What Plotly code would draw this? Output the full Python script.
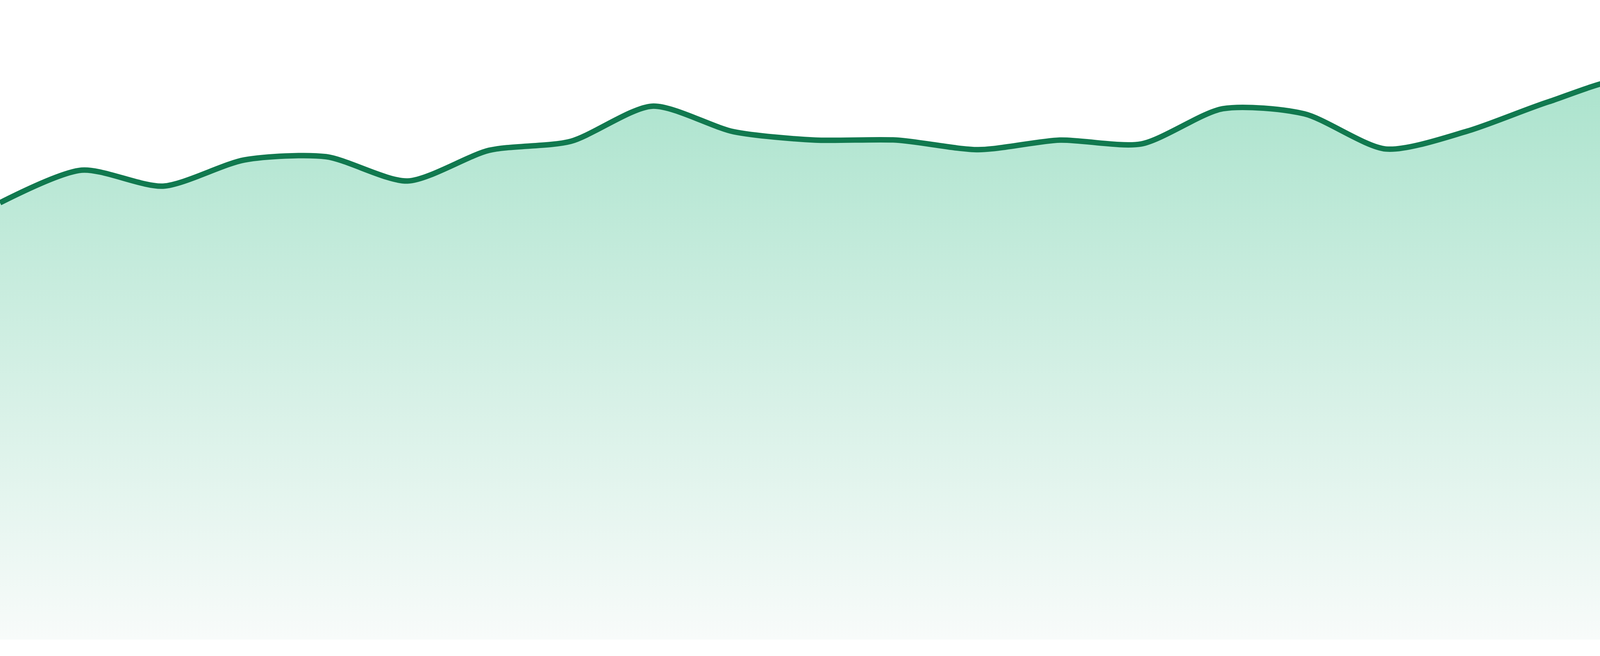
import plotly.graph_objects as go

# 24 evenly spaced samples (axis 0..100)
points = list(range(24))
values = [68.3, 73.4, 70.9, 75.0, 75.5, 71.7, 76.5, 77.9, 83.4, 79.4, 78.1, 78.1,
          76.6, 78.1, 77.5, 83.0, 82.2, 76.7, 79.5, 84.1, 87.6, 80.7, 84.6, 81.0]

line_color = "#11794f"
fill_top = "#a1e0c7"
fill_bottom = "#f8fbfa"

fig = go.Figure()
fig.add_trace(go.Scatter(
    x=points, y=values, mode="lines",
    line=dict(color=line_color, width=14, shape="spline", smoothing=0.75),
    fill="tozeroy",
    fillgradient=dict(type="vertical", start=0, stop=100,
                      colorscale=[[0, fill_bottom], [1, fill_top]]),
    hoverinfo="skip", showlegend=False,
))

fig.update_layout(
    width=4800, height=1680,
    margin=dict(l=0, r=0, t=0, b=42),
    paper_bgcolor="white", plot_bgcolor="white",
    xaxis=dict(visible=False, range=[0, 23], fixedrange=True),
    yaxis=dict(visible=False, range=[0, 100], fixedrange=True),
)

# drop the default page margin so the chart sits flush in the window
fig.write_html("out.html", config={"displayModeBar": False},
               post_script="document.body.style.margin='0';document.body.style.overflow='hidden';")
